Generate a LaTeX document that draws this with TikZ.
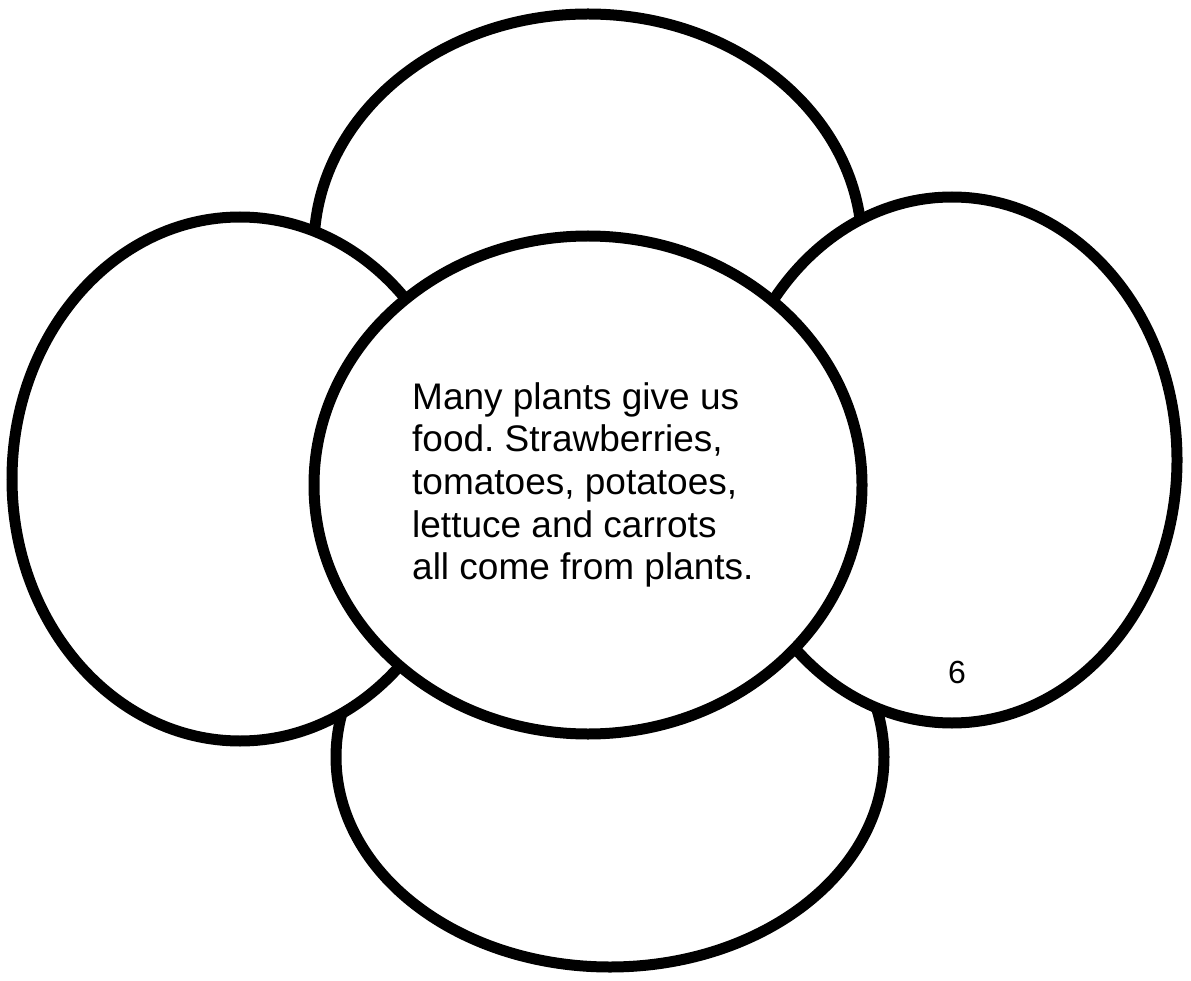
\documentclass[tikz,border=0pt]{standalone}
\usepackage{fontspec}
\setmainfont{Liberation Sans}
\frenchspacing
\begin{document}
\begin{tikzpicture}[x=1pt,y=-1pt,
  petal/.style={draw=black,fill=white,line width=11pt},
  body/.style={font=\fontsize{37}{42.7}\selectfont,align=left,inner sep=0pt,anchor=north west},
  pagenum/.style={font=\fontsize{32}{36}\selectfont,inner sep=0pt}]
\useasboundingbox (0,0) rectangle (1191,981);
\path[petal] (588,247) ellipse [x radius=274, y radius=233];
\path[petal] (610,757) ellipse [x radius=274, y radius=210];
\path[petal] (240,479) ellipse [x radius=228, y radius=262];
\path[petal] (952,460) ellipse [x radius=225, y radius=263];
\path[petal] (588,485) ellipse [x radius=274, y radius=249];
\node[body] (txt) at (412,382) {Many plants give us\\food. Strawberries,\\tomatoes, potatoes,\\lettuce and carrots\\all come from plants.};
\node[pagenum] (num) at (957,672) {6};
\end{tikzpicture}
\end{document}
